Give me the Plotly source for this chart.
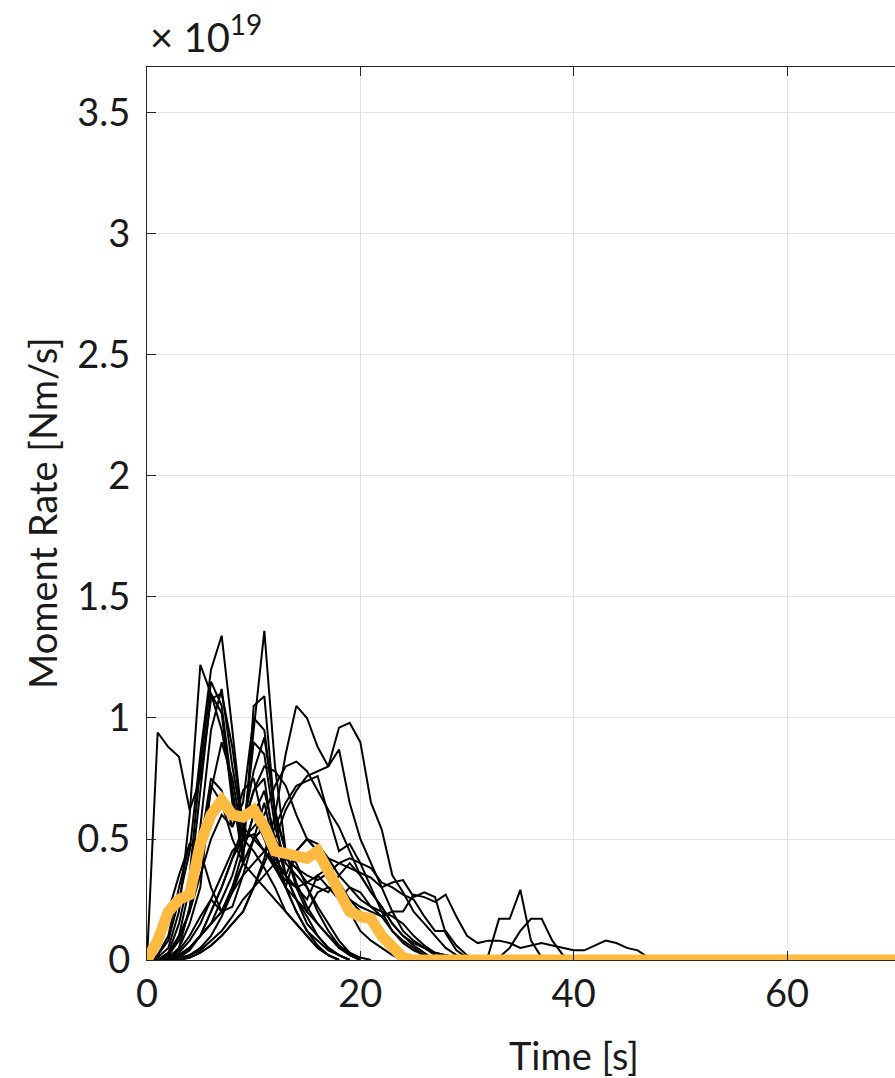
import numpy as np
import plotly.graph_objects as go

# Moment-rate functions, in units of 1e19 Nm/s, sampled every 1 s from t = 0
STF_A1 = [0, 0.94, 0.88, 0.84, 0.62, 0.75, 1.08, 1.10, 0.88, 0.55, 0.78, 0.92, 0.62, 0.45, 0.32, 0.22, 0.15, 0.10, 0.06, 0.03, 0.01, 0]
STF_A2 = [0, 0.02, 0.08, 0.25, 0.45, 0.85, 1.20, 1.34, 0.95, 0.55, 0.50, 0.65, 0.45, 0.30, 0.20, 0.12, 0.08, 0.04, 0.02, 0]
STF_A3 = [0, 0.01, 0.05, 0.20, 0.60, 1.22, 1.10, 0.95, 0.70, 0.45, 0.60, 0.70, 0.50, 0.35, 0.25, 0.15, 0.10, 0.05, 0.02, 0]
STF_A4 = [0, 0, 0.02, 0.08, 0.20, 0.45, 0.70, 0.90, 0.75, 0.50, 0.95, 1.36, 0.80, 0.45, 0.30, 0.20, 0.15, 0.10, 0.05, 0.02, 0]
STF_A5 = [0, 0, 0.03, 0.15, 0.35, 0.80, 1.15, 1.05, 0.70, 0.40, 1.05, 1.09, 0.60, 0.35, 0.25, 0.18, 0.10, 0.05, 0.02, 0]
STF_A6 = [0, 0, 0.01, 0.10, 0.30, 0.70, 1.10, 1.02, 0.65, 0.50, 0.90, 0.85, 0.55, 0.40, 0.35, 0.30, 0.22, 0.15, 0.08, 0.03, 0]
STF_A7 = [0, 0, 0, 0.05, 0.22, 0.55, 0.95, 1.12, 0.80, 0.55, 0.70, 0.75, 0.45, 0.30, 0.20, 0.12, 0.06, 0.02, 0]
STF_A8 = [0, 0.02, 0.10, 0.30, 0.48, 0.47, 0.75, 0.70, 0.55, 0.65, 1.00, 0.95, 0.60, 0.45, 0.40, 0.30, 0.20, 0.12, 0.06, 0.02, 0]
STF_B1 = [0, 0, 0, 0.01, 0.02, 0.04, 0.08, 0.12, 0.18, 0.25, 0.30, 0.42, 0.60, 0.85, 1.05, 1.00, 0.88, 0.80, 0.96, 0.98, 0.90, 0.65, 0.54, 0.35, 0.28, 0.20, 0.15, 0.10, 0.05, 0.02, 0]
STF_B2 = [0, 0, 0, 0, 0.01, 0.03, 0.06, 0.10, 0.15, 0.20, 0.30, 0.40, 0.50, 0.62, 0.70, 0.76, 0.78, 0.80, 0.87, 0.65, 0.50, 0.40, 0.30, 0.20, 0.12, 0.08, 0.05, 0.02, 0]
STF_B3 = [0, 0, 0.01, 0.02, 0.05, 0.10, 0.20, 0.30, 0.42, 0.50, 0.55, 0.60, 0.72, 0.80, 0.82, 0.78, 0.70, 0.62, 0.55, 0.45, 0.35, 0.28, 0.22, 0.15, 0.10, 0.06, 0.03, 0]
STF_B4 = [0, 0, 0, 0.02, 0.05, 0.10, 0.15, 0.20, 0.28, 0.35, 0.40, 0.45, 0.55, 0.65, 0.72, 0.74, 0.76, 0.60, 0.45, 0.48, 0.40, 0.30, 0.20, 0.12, 0.07, 0.04, 0.02, 0]
STF_C1 = [0, 0.05, 0.20, 0.35, 0.48, 0.45, 0.30, 0.20, 0.22, 0.35, 0.50, 0.55, 0.40, 0.30, 0.45, 0.50, 0.45, 0.35, 0.30, 0.20, 0.12, 0.08, 0.05, 0.02, 0]
STF_C2 = [0, 0, 0.03, 0.10, 0.20, 0.35, 0.50, 0.60, 0.55, 0.70, 0.75, 0.55, 0.42, 0.35, 0.30, 0.25, 0.35, 0.38, 0.32, 0.25, 0.20, 0.15, 0.10, 0.05, 0.02, 0]
STF_C3 = [0, 0, 0.01, 0.04, 0.10, 0.18, 0.25, 0.20, 0.30, 0.45, 0.60, 0.50, 0.38, 0.30, 0.25, 0.20, 0.28, 0.30, 0.25, 0.30, 0.28, 0.22, 0.18, 0.12, 0.08, 0.05, 0.02, 0]
STF_C4 = [0, 0, 0, 0.02, 0.05, 0.10, 0.15, 0.25, 0.35, 0.50, 0.45, 0.38, 0.30, 0.20, 0.15, 0.10, 0.05, 0.02, 0]
STF_C5 = [0, 0, 0.01, 0.05, 0.15, 0.30, 0.72, 0.65, 0.50, 0.40, 0.35, 0.30, 0.25, 0.20, 0.15, 0.10, 0.05, 0.02, 0]
STF_D1 = [0, 0, 0, 0.02, 0.05, 0.10, 0.15, 0.20, 0.30, 0.40, 0.50, 0.45, 0.40, 0.35, 0.45, 0.50, 0.48, 0.42, 0.35, 0.30,
          0.25, 0.22, 0.20, 0.18, 0.15, 0.10, 0.06, 0.03, 0.02, 0.01, 0, 0, 0.02, 0.17, 0.17, 0.29, 0.08, 0.01, 0]
STF_D2 = [0, 0, 0, 0, 0.01, 0.03, 0.06, 0.10, 0.15, 0.20, 0.30, 0.35, 0.40, 0.42, 0.38, 0.32, 0.30, 0.28, 0.35, 0.40,
          0.35, 0.28, 0.22, 0.15, 0.10, 0.07, 0.05, 0.03, 0.02, 0.01, 0, 0, 0, 0.01, 0.05, 0.12, 0.17, 0.17, 0.08, 0.02, 0]
STF_D3 = [0, 0, 0.01, 0.03, 0.08, 0.15, 0.25, 0.35, 0.45, 0.50, 0.52, 0.45, 0.38, 0.33, 0.30, 0.32, 0.35, 0.30, 0.28, 0.25,
          0.22, 0.20, 0.18, 0.20, 0.20, 0.27, 0.26, 0.24, 0.27, 0.18, 0.10, 0.07, 0.08, 0.08, 0.07, 0.05, 0.06, 0.07, 0.06, 0.05,
          0.04, 0.04, 0.06, 0.08, 0.07, 0.05, 0.04, 0.01, 0]
STF_D4 = [0, 0, 0, 0.01, 0.04, 0.10, 0.20, 0.30, 0.42, 0.55, 0.70, 0.80, 0.78, 0.72, 0.60, 0.50, 0.45, 0.42, 0.40, 0.38,
          0.36, 0.34, 0.30, 0.32, 0.33, 0.26, 0.28, 0.26, 0.11, 0.04, 0.01, 0]
STF_D5 = [0, 0, 0, 0, 0.02, 0.05, 0.10, 0.18, 0.28, 0.40, 0.50, 0.55, 0.50, 0.42, 0.38, 0.35, 0.33, 0.36, 0.40, 0.42,
          0.40, 0.38, 0.32, 0.30, 0.27, 0.25, 0.18, 0.12, 0.12, 0.06, 0.02, 0]

ENSEMBLE = [STF_A1, STF_A2, STF_A3, STF_A4, STF_A5, STF_A6, STF_A7, STF_A8,
            STF_B1, STF_B2, STF_B3, STF_B4, STF_C1, STF_C2, STF_C3, STF_C4, STF_C5,
            STF_D1, STF_D2, STF_D3, STF_D4, STF_D5]

# Reference (thick orange) moment-rate function, 1 s steps
REF_STF = [0, 0.08, 0.20, 0.25, 0.27, 0.48, 0.60, 0.66, 0.60, 0.59, 0.62, 0.55, 0.45, 0.44, 0.44, 0.42, 0.45, 0.37, 0.28, 0.20,
           0.18, 0.17, 0.10, 0.05, 0.01] + [0] * 56

X_TICKS = [0, 20, 40, 60, 80]
Y_TICKS = [0, 0.5, 1, 1.5, 2, 2.5, 3, 3.5]
Y_TICK_TEXT = ["0", "0.5", "1", "1.5", "2", "2.5", "3", "3.5"]

FONT = "Lato"
AX = "#262626"
TXT = "#1a1a1a"

fig = go.Figure()
for stf in ENSEMBLE:
    fig.add_trace(go.Scatter(x=np.arange(len(stf)), y=stf, mode="lines",
                             line=dict(color="black", width=2), showlegend=False, hoverinfo="skip"))
fig.add_trace(go.Scatter(x=np.arange(len(REF_STF)), y=REF_STF, mode="lines",
                         line=dict(color="#FDBA40", width=11), showlegend=False, hoverinfo="skip"))

fig.update_layout(
    width=895, height=1078,
    margin=dict(l=147, r=0, t=67, b=118),
    plot_bgcolor="white", paper_bgcolor="white",
    font=dict(family=FONT, size=38, color=TXT),
)
fig.update_xaxes(range=[0, 70.125], tickvals=X_TICKS, ticks="inside", ticklen=9, tickwidth=1.3, tickcolor=AX,
                 showline=True, linecolor=AX, linewidth=1.3, mirror="ticks",
                 showgrid=True, gridcolor="#e2e2e2", gridwidth=1, zeroline=False,
                 tickfont=dict(family=FONT, size=38, color=TXT))
fig.update_yaxes(range=[0, 3.69], tickvals=Y_TICKS, ticktext=Y_TICK_TEXT, ticks="inside", ticklen=9, tickwidth=1.3,
                 tickcolor=AX, showline=True, linecolor=AX, linewidth=1.3, mirror=False,
                 showgrid=True, gridcolor="#e2e2e2", gridwidth=1, zeroline=False, ticklabelstandoff=8,
                 tickfont=dict(family=FONT, size=38, color=TXT))

fig.add_annotation(text="Time [s]", x=40, xref="x", xanchor="center", y=-0.106, yref="paper", yanchor="middle",
                   showarrow=False, font=dict(family=FONT, size=38, color=TXT))
fig.add_annotation(text="Moment Rate [Nm/s]", x=-0.141, xref="paper", xanchor="center", y=0.5, yref="paper",
                   yanchor="middle", textangle=-90,
                   showarrow=False, font=dict(family=FONT, size=38, color=TXT))
fig.add_annotation(text="× 10<sup>19</sup>", x=0.002, xref="paper", xanchor="left", y=1.0, yref="paper",
                   yanchor="bottom", yshift=4, showarrow=False, font=dict(family=FONT, size=40, color=TXT))

fig.write_html("out.html")
